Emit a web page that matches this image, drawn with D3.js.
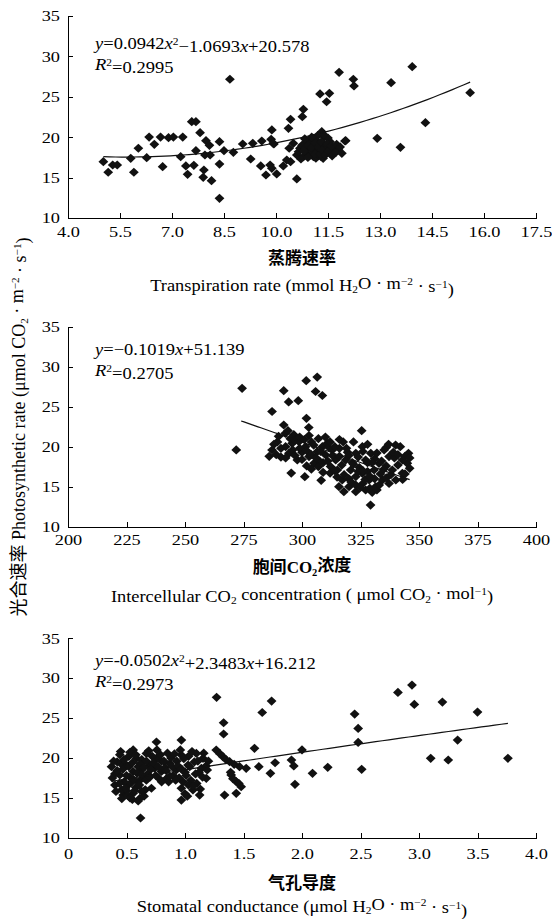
<!DOCTYPE html>
<html>
<meta charset="utf-8">
<style>
body { margin: 0; background: #fff; }
text { font-family: "Liberation Serif", "Times New Roman", serif; fill: #000; }
.cn { font-family: "Noto Sans CJK SC", sans-serif; }
.axis path, .axis line { fill: none; stroke: #000; shape-rendering: crispEdges; }
.axis text { font-size: 15px; }
path.trend { fill: none; stroke: #111; stroke-width: 1.2; }
path.dot { fill: #111; }
</style>
<body>
<div id="chart"></div>
<script src="https://d3js.org/d3.v7.min.js"></script>
<script>

// transpiration rate vs photosynthetic rate
var trX = [5.02,5.16,5.29,5.42,5.81,5.90,6.03,6.27,6.34,6.49,6.67,6.73,6.90,7.04,7.25,7.31,7.40,7.45,7.57,7.69,
  7.69,7.63,7.81,7.92,7.90,7.95,7.98,8.08,8.10,8.14,8.37,8.37,8.37,8.50,8.67,8.77,9.04,9.27,9.33,9.56,
  9.59,9.71,9.83,9.86,9.88,9.88,9.94,10.02,10.21,10.31,10.36,10.42,10.38,10.42,10.60,10.76,10.79,11.27,11.54,11.46,
  11.82,12.23,12.25,13.32,13.93,15.60,14.31,12.92,13.59,12.01,9.92,10.50,
  10.60,10.69,10.79,10.75,10.85,10.88,10.90,10.95,10.98,11.00,11.00,11.05,11.08,11.08,11.10,11.15,11.17,11.20,
  11.20,11.25,11.25,11.30,11.32,11.36,11.36,11.40,11.45,11.50,11.56,11.56,11.65,11.70,11.80,11.99,
  10.65,10.72,10.80,10.83,10.92,10.93,11.02,11.03,11.12,11.13,11.22,11.28,11.30,11.33,11.38,11.42,11.48,11.52,
  11.60,11.62,11.72,11.75,11.85,11.90];
var trY = [16.97,15.66,16.56,16.56,17.39,15.66,18.63,17.46,20.02,19.12,20.02,16.35,19.94,20.02,17.59,20.02,16.44,15.41,21.92,21.92,
  18.33,16.52,20.56,15.94,15.04,17.80,19.57,19.00,17.80,14.62,19.44,16.68,12.44,18.33,27.17,18.13,19.16,17.30,19.24,16.44,
  19.53,15.32,16.56,19.74,20.90,16.15,19.16,15.45,16.44,17.18,21.10,22.21,18.63,16.97,14.83,22.54,23.45,25.35,25.43,24.39,
  28.03,27.17,26.34,26.75,28.73,25.51,21.80,19.86,18.75,19.57,19.24,19.24,
  17.80,18.63,17.59,19.00,18.70,19.44,18.00,19.60,18.42,17.80,19.20,18.30,19.86,17.59,18.90,17.40,18.63,19.50,
  20.20,18.20,19.00,17.60,20.68,19.03,17.39,20.00,18.60,19.90,19.44,18.00,18.30,18.70,18.42,19.53,
  18.2,17.3,18.3,19.8,17.5,19.0,18.7,20.0,17.9,19.3,18.8,17.9,19.4,18.4,20.3,17.8,19.2,18.3,
  18.9,17.7,18.1,19.1,18.8,18.0];

// intercellular CO2 concentration vs photosynthetic rate
var ciX = [274.4,271.9,287.2,292.2,294.3,298.4,301.8,306.5,305.8,308.7,301.9,302.9,325.5,317.6,329.3,295.4,301.2,308.2,
  287.2,292.2,292.9,295.8,294.4,298.0,298.7,301.5,303.0,305.1,306.5,308.7,310.1,310.8,313.0,314.4,312.2,315.1,
  318.7,320.8,323.0,325.8,327.2,329.4,317.2,320.1,323.0,325.8,328.7,330.8,332.9,335.1,337.2,338.6,340.1,342.9,
  345.5,345.0,342.9,334.4,331.5,327.2,315.8,317.9,323.0,
  289.5,291.0,296.5,300.0,304.0,307.5,311.5,316.0,319.5,321.5,324.5,328.0,331.0,333.5,336.0,339.5,326.0,330.0,337.2,
  286,288,289,290,291,293,293,294,295,296,297,297,299,299,300,301,302,302,303,304,
  304,305,306,307,307,308,309,309,310,311,312,312,313,314,314,315,316,316,317,318,
  319,320,320,321,322,322,323,324,324,325,326,326,327,328,328,329,329,330,331,332,
  332,333,334,335,336,336,338,339,341,341,343,344,344,346,346,342,340,337];
var ciY = [27.3,19.6,24.4,27.0,25.6,25.75,28.25,28.7,26.9,26.4,23.55,22.4,22.0,20.6,12.7,16.7,16.25,15.8,
  19.59,22.71,21.67,20.42,19.17,18.34,20.63,20.0,18.76,17.92,19.38,20.0,18.96,20.42,19.59,18.34,17.51,17.09,
  18.34,17.09,19.17,20.0,18.34,19.17,15.84,15.0,16.26,16.67,15.84,17.09,17.92,19.59,18.76,17.09,15.84,16.67,
  19.17,17.92,18.34,15.84,15.0,14.59,15.0,14.38,14.38,
  20.6,18.7,21.5,19.3,20.6,18.2,19.9,19.8,19.3,18.0,17.4,16.9,18.5,16.6,17.6,18.6,15.4,14.3,15.4,
  18.8,20.3,19.0,21.3,19.8,20.0,18.6,22.0,21.0,19.6,20.8,18.9,19.8,21.2,18.4,20.9,19.5,17.6,21.4,19.0,
  17.2,20.2,18.6,21.0,17.5,19.4,18.0,16.8,21.2,18.2,20.6,16.7,18.9,17.0,20.0,16.2,18.8,20.9,17.7,16.5,
  19.8,18.9,16.0,15.6,20.6,17.8,15.2,18.7,16.9,14.9,19.4,17.0,15.9,20.3,18.0,16.3,14.8,18.0,16.0,19.2,
  14.6,15.2,18.2,17.2,16.1,19.9,16.5,19.3,17.7,19.0,15.9,18.8,16.6,17.3,18.6,20.0,20.2,20.3];

// stomatal conductance vs photosynthetic rate
var gsX = [1.77,1.91,1.93,1.94,2.00,2.09,2.22,2.45,2.48,2.48,2.51,2.82,2.94,2.96,3.10,3.20,3.25,3.33,3.50,3.76,
  1.27,1.33,1.33,1.66,1.74,1.73,0.62,
  0.372,0.401,0.443,0.443,0.472,0.500,0.514,0.557,0.557,0.557,0.585,0.600,0.614,0.628,0.670,0.699,0.713,0.756,
  0.756,0.799,0.841,0.870,0.926,0.969,0.969,0.983,0.969,0.969,1.026,1.068,1.097,1.125,1.140,1.154,1.182,
  1.267,1.324,1.381,1.466,1.523,1.395,1.438,1.480,1.338,1.438,1.594,1.631,
  0.40,0.45,0.48,0.50,0.52,0.53,0.58,0.60,0.63,0.64,0.66,0.68,0.72,0.74,0.78,0.80,0.83,0.86,0.88,0.90,
  0.93,0.95,1.00,1.03,1.05,1.08,1.10,1.12,1.18,1.00,1.03,0.46,0.42,0.55,0.63,1.30,1.35,1.42,1.41,1.46,1.39,
  0.38,0.39,0.41,0.42,0.44,0.45,0.46,0.47,0.48,0.49,0.50,0.51,0.52,0.53,0.54,0.55,0.56,0.57,0.58,0.59,
  0.61,0.62,0.63,0.65,0.65,0.67,0.67,0.69,0.70,0.71,0.73,0.75,0.76,0.77,0.79,0.80,0.82,0.84,0.85,0.87,
  0.89,0.91,0.92,0.94,0.96,0.97,0.99,1.01,1.02,1.04,1.06,1.07,1.09,1.11,1.13,1.15,1.16,1.19,1.20,0.60,0.53];
var gsY = [19.4,19.74,19.0,16.69,21.0,18.07,18.82,25.5,23.7,21.95,18.57,28.22,29.13,26.71,19.95,27.0,19.74,22.24,25.75,19.95,
  27.6,24.41,23.0,25.7,27.13,18.07,12.47,
  18.9,16.6,20.4,17.86,15.35,19.1,16.6,21.0,18.3,15.56,19.95,17.0,14.93,18.5,20.57,19.1,16.2,22.0,
  19.95,18.3,17.4,19.3,18.5,20.36,22.24,17.0,16.2,14.72,19.1,15.98,20.57,15.35,18.7,19.95,17.44,
  20.99,20.16,19.53,18.9,18.7,17.86,17.02,16.4,15.35,15.56,21.2,18.9,
  18.0,19.3,17.0,15.9,20.2,17.6,16.3,18.9,19.8,17.5,16.0,18.0,20.2,18.7,17.4,19.6,18.8,17.0,20.0,17.8,
  19.6,17.5,18.2,20.2,17.2,19.5,16.8,18.2,19.0,15.5,16.6,16.0,19.5,14.8,15.8,20.5,19.8,19.2,17.4,16.8,18.2,
  17.5,19.6,15.8,18.4,16.8,20.8,14.9,18.6,19.8,16.2,17.8,15.3,18.9,20.7,16.9,19.4,17.3,15.9,20.4,18.1,
  16.6,19.3,17.9,18.8,15.2,19.6,17.2,20.9,17.6,18.6,19.4,17.8,21.0,18.9,20.4,17.0,19.6,18.4,20.6,17.7,
  18.9,20.5,17.2,19.0,21.0,18.6,19.9,17.8,15.2,18.9,20.8,16.5,18.0,19.6,16.1,17.6,20.6,18.5,19.6,14.6,15.0];

var yTicks = [10, 15, 20, 25, 30, 35];
var trTicks = [4.0, 5.5, 7.0, 8.5, 10.0, 11.5, 13.0, 14.5, 16.0, 17.5];
var ciTicks = [200, 225, 250, 275, 300, 325, 350, 375, 400];
var gsTicks = [0, 0.5, 1.0, 1.5, 2.0, 2.5, 3.0, 3.5, 4.0];
var gsTickLabels = ["0", "0.5", "1.0", "1.5", "2.0", "2.5", "3.0", "3.5", "4.0"];

// fitted trend lines: [a, b, c] for a*x^2 + b*x + c, drawn over the data span
var trFit = [0.0942, -1.0693, 20.578], trSpan = [5.02, 15.6];
var ciFit = [0, -0.1019, 51.139], ciSpan = [274, 346];
var gsFit = [-0.0502, 2.3483, 16.212], gsSpan = [0.37, 3.76];

var width = 552, height = 919;
var left = 68, right = 536;
var SX = 1.22;   // glyphs in the source figure are drawn wide

var svg = d3.select("#chart").append("svg")
    .attr("width", width)
    .attr("height", height);

var panels = [
  { xs: trX, ys: trY, dom: [4, 17.5], ticks: trTicks, fmt: d3.format(".1f"),
    fit: trFit, span: trSpan, top: 16, bottom: 218, labelPad: 8,
    eq: [["y","i"],["=0.0942"],["x","i"],["2","sup"],["\u22121.0693"],["x","i"],["+20.578"]],
    r2: "=0.2995", eqY: 49,
    cn: [["蒸腾速率","cn"]], cnY: 264,
    en: [["Transpiration rate (mmol H"],["2","sub"],["O \u00b7 m"],["\u22122","sup"],[" \u00b7 s"],["\u22121","sup"],[")"]], enY: 291 },
  { xs: ciX, ys: ciY, dom: [200, 400], ticks: ciTicks, fmt: d3.format("d"),
    fit: ciFit, span: ciSpan, top: 326.7, bottom: 526.7, labelPad: 8,
    eq: [["y","i"],["=\u22120.1019"],["x","i"],["+51.139"]],
    r2: "=0.2705", eqY: 355,
    cn: [["胞间","cn"],["CO"],["2","sub"],["浓度","cn"]], cnY: 573,
    en: [["Intercellular CO"],["2","sub"],[" concentration ( \u03bcmol CO"],["2","sub"],[" \u00b7 mol"],["\u22121","sup"],[")"]], enY: 602 },
  { xs: gsX, ys: gsY, dom: [0, 4], ticks: gsTicks, fmt: function(d, i) { return gsTickLabels[i]; },
    fit: gsFit, span: gsSpan, top: 638.3, bottom: 837.7, labelPad: 11,
    eq: [["y","i"],["=-0.0502"],["x","i"],["2","sup"],["+2.3483"],["x","i"],["+16.212"]],
    r2: "=0.2973", eqY: 666,
    cn: [["气孔导度","cn"]], cnY: 889,
    en: [["Stomatal conductance (\u03bcmol H"],["2","sub"],["O \u00b7 m"],["\u22122","sup"],[" \u00b7 s"],["\u22121","sup"],[")"]], enY: 912 }
];

// write text pieces as tspans: italic, super/subscript, CJK
function rich(sel, parts) {
  var shift = 0;
  parts.forEach(function(p) {
    var ts = sel.append("tspan").text(p[0]);
    var kind = p[1] || "";
    var target = kind === "sup" ? -0.42 : kind === "sub" ? 0.25 : 0;
    if (target !== shift) { ts.attr("dy", (target - shift) + "em"); shift = target; }
    if (kind === "i") ts.style("font-style", "italic");
    if (kind === "sup" || kind === "sub") ts.style("font-size", "62%");
    if (kind === "cn") ts.attr("class", "cn");
  });
}

var diamond = "M0,-4.6L4.9,0L0,4.6L-4.9,0Z";

panels.forEach(function(p) {
  var x = d3.scaleLinear().domain(p.dom).range([left, right]);
  var y = d3.scaleLinear().domain([10, 35]).range([p.bottom, p.top]);

  var g = svg.append("g");

  g.selectAll("path.dot")
    .data(p.xs)
    .enter().append("path")
    .attr("class", "dot")
    .attr("d", diamond)
    .attr("transform", function(d, i) { return "translate(" + x(d) + "," + y(p.ys[i]) + ")"; });

  var f = p.fit;
  var fx = d3.range(0, 61).map(function(i) { return p.span[0] + (p.span[1] - p.span[0]) * i / 60; });
  var line = d3.line()
    .x(function(d) { return x(d); })
    .y(function(d) { return y(f[0] * d * d + f[1] * d + f[2]); });
  g.append("path")
    .datum(fx)
    .attr("class", "trend")
    .attr("d", line);

  var xAxis = d3.axisBottom(x)
    .tickValues(p.ticks)
    .tickFormat(p.fmt)
    .tickSizeInner(-5)
    .tickSizeOuter(0)
    .tickPadding(p.labelPad);
  var yAxis = d3.axisLeft(y)
    .tickValues(yTicks)
    .tickSizeInner(-5)
    .tickSizeOuter(0);

  var gx = g.append("g")
    .attr("class", "x axis")
    .attr("transform", "translate(0," + p.bottom + ")")
    .call(xAxis);
  gx.attr("font-family", null).attr("font-size", null);
  gx.selectAll("text").attr("transform", "scale(" + SX + ",1)");

  var gy = g.append("g")
    .attr("class", "y axis")
    .attr("transform", "translate(" + left + ",0)")
    .call(yAxis);
  gy.attr("font-family", null).attr("font-size", null);
  gy.selectAll("text").attr("x", -8 / SX).attr("transform", "scale(" + SX + ",1)");

  // equation and R2
  var eq = g.append("text")
    .attr("transform", "translate(95," + p.eqY + ") scale(1.09,1)")
    .style("font-size", "17px");
  rich(eq, p.eq);
  var r2 = g.append("text")
    .attr("transform", "translate(95," + (p.eqY + 21) + ") scale(1.09,1)")
    .style("font-size", "17px");
  rich(r2, [["R","i"],["2","sup"],[p.r2]]);

  // axis titles
  var cn = g.append("text")
    .attr("transform", "translate(302," + p.cnY + ")")
    .attr("text-anchor", "middle")
    .style("font-size", "17px")
    .style("font-weight", "700");
  rich(cn, p.cn);
  var en = g.append("text")
    .attr("transform", "translate(302," + p.enY + ") scale(1.15,1)")
    .attr("text-anchor", "middle")
    .style("font-size", "16px");
  rich(en, p.en);
});

var yl = svg.append("text")
  .attr("transform", "translate(25,427) rotate(-90)")
  .attr("text-anchor", "middle")
  .style("font-size", "18px");
rich(yl, [["光合速率","cn"],[" Photosynthetic rate (\u03bcmol CO"],["2","sub"],[" \u00b7 m"],["\u22122","sup"],[" \u00b7 s"],["\u22121","sup"],[")"]]);

</script>
</body>
</html>
